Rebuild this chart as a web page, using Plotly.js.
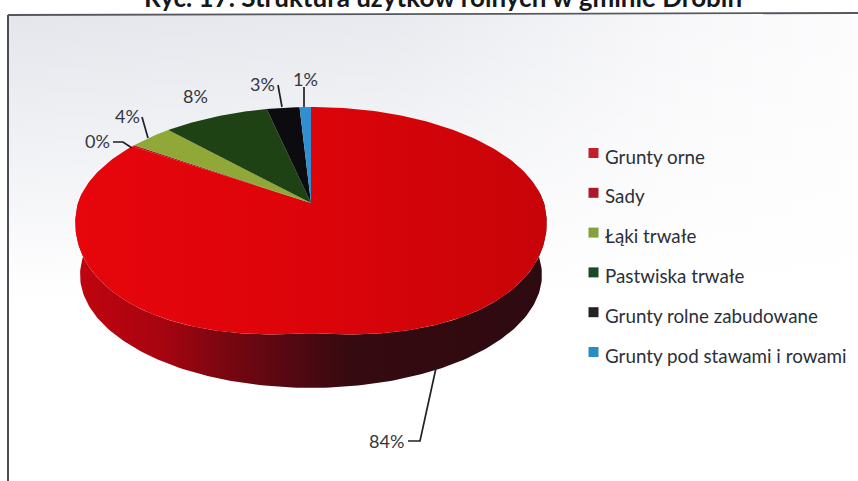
<!DOCTYPE html>
<html><head><meta charset="utf-8">
<script src="https://cdn.plot.ly/plotly-3.0.1.min.js"></script>
<style>html,body{margin:0;padding:0;background:#fff;overflow:hidden}</style>
</head><body><div id="chart" style="width:858px;height:481px"></div>
<script>
const chartTitle = 'Ryc. 17. Struktura użytków rolnych w gminie Drobin';
const categories = ['Grunty orne','Sady','Łąki trwałe','Pastwiska trwałe','Grunty rolne zabudowane','Grunty pod stawami i rowami'];
const shares = [84.4,0.2,3.5,8.4,2.6,0.9];
const sliceColors = ['#d8060c','#b01020','#8fa838','#1f4215','#0c0c10','#2f8fd0'];
const legendColors = ['#c0202a','#ac1a2a','#83a040','#1a4a25','#222226','#2a8cc4'];

// perspective projection of the pie's unit disc into page pixels
const cx=311, cy=203, a=233, b=110.4, k=0.15;
function rim(t){ const u=Math.sin(t), v=Math.cos(t), d=1+k*v;
  return [cx+a*u/d, cy-b*v/d+(v<0?11*Math.abs(Math.sin(2*t)):0)]; }
function rimLower(t){ const u=Math.sin(t), v=Math.cos(t), d=1+k*v;
  return [cx+(a*0.98)*u/d, cy+55-b*v/d]; }
const total=shares.reduce((p,q)=>p+q,0);
const traces=[];

// paper tone: greyer towards the upper left, fading out downwards
traces.push({type:'scatter',mode:'lines',x:[8,858,858,8,8],y:[15,15,300,300,15],fill:'toself',line:{width:0},hoverinfo:'skip',showlegend:false,
  fillgradient:{type:'horizontal',colorscale:[[0,'#e4e6ec'],[0.45,'#e8eaef'],[0.8,'#f8f8fa'],[1,'#fcfcfd']]}});
traces.push({type:'scatter',mode:'lines',x:[8,858,858,8,8],y:[15,15,300,300,15],fill:'toself',line:{width:0},hoverinfo:'skip',showlegend:false,
  fillgradient:{type:'vertical',colorscale:[[0,'rgba(255,255,255,1)'],[0.45,'rgba(255,255,255,0.55)'],[1,'rgba(255,255,255,0)']]}});

// side wall
(function(){ const xs=[],ys=[]; 
  for(let d=85;d<=275;d+=1){const p=rim(d*Math.PI/180);xs.push(p[0]);ys.push(p[1]);}
  for(let d=275;d>=85;d-=1){const p=rimLower(d*Math.PI/180);xs.push(p[0]);ys.push(p[1]);}
  traces.push({type:'scatter',mode:'lines',x:xs,y:ys,fill:'toself',line:{width:0},hoverinfo:'skip',showlegend:false,
    fillgradient:{type:'horizontal',colorscale:[[0,'#c00410'],[0.18,'#a80410'],[0.3,'#7e0610'],[0.45,'#560812'],[0.58,'#360a10'],[1,'#2e0a10']]}});
})();

// top face slices
let acc=0;
shares.forEach((s,i)=>{
  const a0=acc/total*2*Math.PI; acc+=s; const a1=acc/total*2*Math.PI;
  const xs=[cx],ys=[cy]; const n=Math.max(1,Math.ceil((a1-a0)/(Math.PI/180)));
  for(let j=0;j<=n;j++){const p=rim(a0+(a1-a0)*j/n);xs.push(p[0]);ys.push(p[1]);}
  xs.push(cx);ys.push(cy);
  const tr={type:'scatter',mode:'lines',x:xs,y:ys,name:categories[i],fill:'toself',line:{width:0},hoverinfo:'name',showlegend:false,fillcolor:sliceColors[i]};
  if(i===0) tr.fillgradient={type:'horizontal',colorscale:[[0,'#e6060c'],[0.5,'#dc040a'],[1,'#c80408']]};
  traces.push(tr);
});

// leader lines
const leaders=[[[113,123,132],[142,142,148]],[[142,148],[117,138]],[[278,282],[85,107]],[[304,304],[87,107]],[[408,420,436],[441,441,368]]];
leaders.forEach(l=>traces.push({type:'scatter',mode:'lines',x:l[0],y:l[1],line:{color:'#1e2026',width:1.7},hoverinfo:'skip',showlegend:false}));

// legend swatches
traces.push({type:'scatter',mode:'markers',x:categories.map(()=>593.5),y:categories.map((c,i)=>153+i*39.8),
  marker:{symbol:'square',size:10,color:legendColors,line:{width:0}},hoverinfo:'skip',showlegend:false});

const fontFam='Lato, "Open Sans", sans-serif';
const annotations=[];
categories.forEach((c,i)=>annotations.push({x:603,y:156+i*39.8,xref:'x',yref:'y',text:c,showarrow:false,xanchor:'left',yanchor:'middle',font:{family:fontFam,size:18.8,color:'#2b3038'}}));
const labelPos=[[386,441],[97,141],[127,116],[195,96],[262,84],[305,79]];
shares.forEach((s,i)=>annotations.push({x:labelPos[i][0],y:labelPos[i][1],xref:'x',yref:'y',text:Math.round(s)+'%',showarrow:false,font:{family:fontFam,size:18,color:'#33373f'}}));
annotations.push({x:443,y:0,yshift:3,xref:'x',yref:'y',text:'<b>'+chartTitle+'</b>',showarrow:false,yanchor:'middle',font:{family:fontFam,size:26,color:'#15171b'}});

const layout={width:858,height:481,margin:{l:0,r:0,t:0,b:0},paper_bgcolor:'#ffffff',plot_bgcolor:'rgba(0,0,0,0)',showlegend:false,
  xaxis:{range:[0,858],visible:false,fixedrange:true},yaxis:{range:[481,0],visible:false,fixedrange:true},
  annotations:annotations,
  shapes:[{type:'line',xref:'x',yref:'y',x0:8,x1:858,y0:15,y1:13,line:{color:'#55585e',width:1.8}},
          {type:'line',xref:'x',yref:'y',x0:8,x1:8,y0:15,y1:481,line:{color:'#4a4d53',width:2}}]};
Plotly.newPlot('chart',traces,layout,{displayModeBar:false,responsive:false});
</script></body></html>
